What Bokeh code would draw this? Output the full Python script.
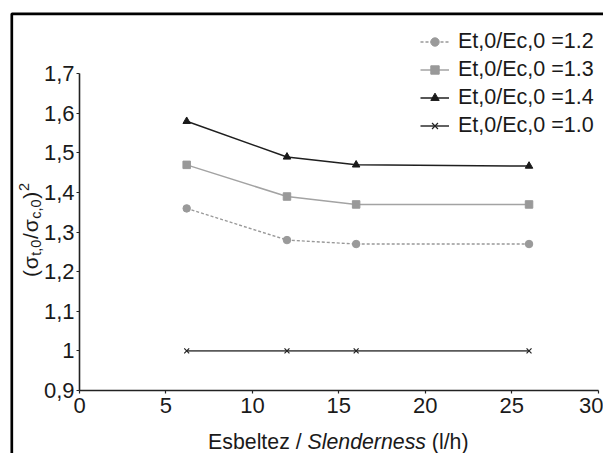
from bokeh.plotting import figure
from bokeh.models import FixedTicker, Label, BoxAnnotation, Legend, LegendItem, Range1d
from bokeh.embed import file_html
from bokeh.resources import INLINE

# ---- data ----
slenderness = [6.2, 12, 16, 26]
ratio_12 = [1.36, 1.28, 1.27, 1.27]
ratio_13 = [1.47, 1.39, 1.37, 1.37]
ratio_14 = [1.58, 1.49, 1.47, 1.467]
ratio_10 = [1.0, 1.0, 1.0, 1.0]
series_labels = ["Et,0/Ec,0 =1.2", "Et,0/Ec,0 =1.3", "Et,0/Ec,0 =1.4", "Et,0/Ec,0 =1.0"]
x_ticks = [0, 5, 10, 15, 20, 25, 30]
y_ticks = [0.9, 1.0, 1.1, 1.2, 1.3, 1.4, 1.5, 1.6, 1.7]
y_tick_labels = ["0,9", "1", "1,1", "1,2", "1,3", "1,4", "1,5", "1,6", "1,7"]

FONT = "Liberation Sans"
TXT = "#1a1a1a"
W, H = 603, 453

# pixel anchors of the axes inside the canvas
X0_PX, X30_PX = 79.0, 597.7
Y09_PX, Y17_PX = 390.0, 73.3
xs = (X30_PX - X0_PX) / 30.0
ys = (Y09_PX - Y17_PX) / 0.8

p = figure(width=W, height=H, min_border=0,
           x_range=Range1d(-X0_PX / xs, (W - X0_PX) / xs),
           y_range=Range1d(0.9 - (H - Y09_PX) / ys, 1.7 + Y17_PX / ys),
           output_backend="svg", toolbar_location=None)
if p.title is not None:
    p.title.visible = False
p.xgrid.visible = False
p.ygrid.visible = False
p.outline_line_color = None
p.background_fill_color = "white"
p.border_fill_color = "white"

p.xaxis.fixed_location = 0.9
p.yaxis.fixed_location = 0
p.xaxis.bounds = (0, 30)
p.yaxis.bounds = (0.9, 1.7)

for ax in (p.xaxis, p.yaxis):
    ax.axis_line_color = "#222222"
    ax.axis_line_width = 1.6
    ax.major_tick_line_color = "#222222"
    ax.major_tick_line_width = 1.2
    ax.major_tick_out = 3
    ax.major_tick_in = 0
    ax.minor_tick_line_color = None
    ax.major_label_text_font = FONT
    ax.major_label_text_font_size = "22px"
    ax.major_label_text_color = TXT

p.xaxis.ticker = FixedTicker(ticks=x_ticks)
p.yaxis.ticker = FixedTicker(ticks=y_ticks)
p.yaxis.major_label_overrides = {t: s for t, s in zip(y_ticks, y_tick_labels)}
p.xaxis.major_label_standoff = 4
p.yaxis.major_label_standoff = 2

# ---- series ----
l12 = p.line(slenderness, ratio_12, line_color="#999999", line_width=1.4, line_dash="3 2")
m12 = p.scatter(slenderness, ratio_12, marker="circle", size=7.5, fill_color="#9a9a9a", line_color="#9a9a9a")
l13 = p.line(slenderness, ratio_13, line_color="#a3a3a3", line_width=1.5)
m13 = p.scatter(slenderness, ratio_13, marker="square", size=7.5, fill_color="#999999", line_color="#999999")
l14 = p.line(slenderness, ratio_14, line_color="#1f1f1f", line_width=1.5)
m14 = p.scatter(slenderness, ratio_14, marker="triangle", size=7.5, fill_color="#1a1a1a", line_color="#1a1a1a")
l10 = p.line(slenderness, ratio_10, line_color="#5a5a5a", line_width=1.9)
m10 = p.scatter(slenderness, ratio_10, marker="x", size=7, line_color="#222222", line_width=1.2)

legend = Legend(items=[
    LegendItem(label=series_labels[0], renderers=[l12, m12]),
    LegendItem(label=series_labels[1], renderers=[l13, m13]),
    LegendItem(label=series_labels[2], renderers=[l14, m14]),
    LegendItem(label=series_labels[3], renderers=[l10, m10]),
], location=(420, H - 138))
legend.label_text_font = FONT
legend.label_text_font_size = "21.5px"
legend.label_text_color = TXT
legend.glyph_width = 29
legend.glyph_height = 21
legend.label_height = 21
legend.label_standoff = 9
legend.spacing = 3
legend.padding = 0
legend.margin = 0
legend.border_line_color = None
legend.background_fill_alpha = 0
p.add_layout(legend)

# ---- outer frame (only its top and left edges fall inside the picture) ----
p.add_layout(BoxAnnotation(left=11.3, right=2000, top=H - 13.3, bottom=-2000,
                           left_units="screen", right_units="screen",
                           top_units="screen", bottom_units="screen",
                           fill_color=None, fill_alpha=0, line_color="black",
                           line_alpha=1.0, line_width=2.7))

# ---- x axis label (mixed upright / italic) ----
XF = 21.3
xl_y = H - 441.7
x_start = 207.6
p.add_layout(Label(x=x_start, y=xl_y, x_units="screen", y_units="screen", text="Esbeltez /",
                   text_font=FONT, text_font_size=f"{XF}px", text_color=TXT, text_baseline="alphabetic"))
x_s = x_start + 4.669 * XF
p.add_layout(Label(x=x_s, y=xl_y, x_units="screen", y_units="screen", text="Slenderness",
                   text_font=FONT, text_font_size=f"{XF}px", text_font_style="italic",
                   text_color=TXT, text_baseline="alphabetic"))
x_h = x_s + (5.558 + 0.278) * XF
p.add_layout(Label(x=x_h, y=xl_y, x_units="screen", y_units="screen", text="(l/h)",
                   text_font=FONT, text_font_size=f"{XF}px", text_color=TXT, text_baseline="alphabetic"))

# ---- y axis label, rotated pieces with sub/superscripts ----
MF, SF = 21.0, 14.5
pieces = [("(", MF, 30, 0.333), ("σ", MF, 30, 0.6), ("t,0", SF, 35, 1.112), ("/", MF, 30, 0.278),
          ("σ", MF, 30, 0.6), ("c,0", SF, 35, 1.334), (")", MF, 30, 0.333), ("2", SF, 23, 0.556)]
pos = H - 276.5
for txt, fs, bx, em in pieces:
    p.add_layout(Label(x=bx, y=pos, x_units="screen", y_units="screen", text=txt,
                       angle=1.5707963, text_font=FONT, text_font_size=f"{fs}px", text_color=TXT,
                       text_align="left", text_baseline="alphabetic"))
    pos += em * fs + 0.8

open("out.html", "w").write(file_html(p, INLINE))
